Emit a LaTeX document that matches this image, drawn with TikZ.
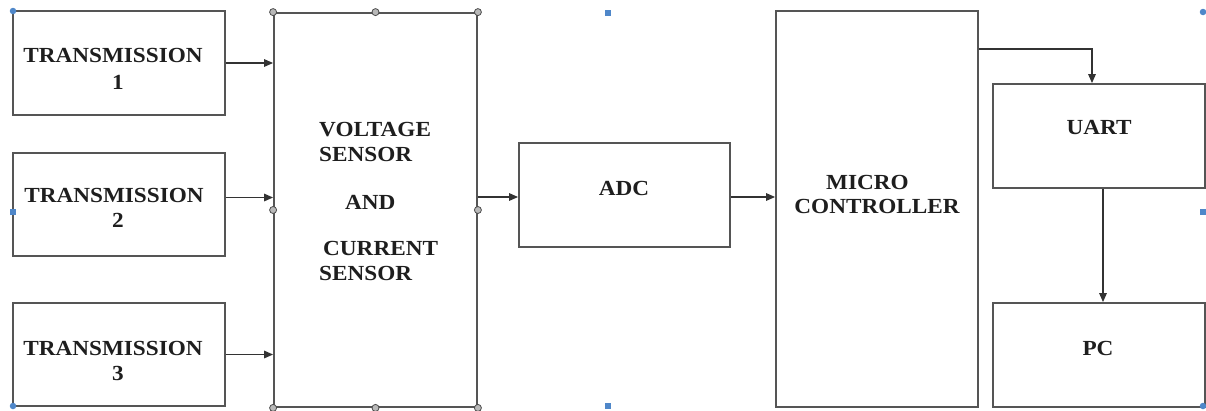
\documentclass[tikz,border=0pt]{standalone}
\usepackage{fontspec}
\setmainfont{Liberation Serif}[FakeStretch=1.08]
\usetikzlibrary{arrows.meta,calc}
\definecolor{linec}{HTML}{555555}
\definecolor{txtc}{HTML}{1E1E1E}
\definecolor{handleblue}{HTML}{4F87C9}
\begin{document}
\begin{tikzpicture}[x=1pt,y=-1pt,
  blk/.style={draw=linec,line width=1.8pt,fill=white,inner sep=0pt},
  lbl/.style={text=txtc,font=\fontsize{21.5}{24}\selectfont\bfseries,inner sep=0pt},
  arr/.style={draw=black!80,line width=1.4pt,-{Triangle[length=9pt,width=7.5pt]}},
  ghandle/.style={circle,draw=gray!60!black,fill=gray!55,line width=0.8pt,inner sep=0pt,minimum size=7pt},
  bdot/.style={circle,fill=handleblue,inner sep=0pt,minimum size=6.5pt},
  bsq/.style={rectangle,fill=handleblue,inner sep=0pt,minimum size=6pt}]
\useasboundingbox (0,0) rectangle (1206,410);
\fill[white] (0,0) rectangle (1206,410);

% boxes
\node[blk,minimum width=212pt,minimum height=104pt] (t1) at (119,63) {};
\node[blk,minimum width=212pt,minimum height=103pt] (t2) at (119,204.5) {};
\node[blk,minimum width=212pt,minimum height=103pt] (t3) at (119,354.5) {};
\node[blk,minimum width=203pt,minimum height=394pt] (sensor) at (375.5,210) {};
\node[blk,minimum width=211pt,minimum height=104pt] (adc) at (624.5,195) {};
\node[blk,minimum width=202pt,minimum height=396pt] (mc) at (877,209) {};
\node[blk,minimum width=212pt,minimum height=104pt] (uart) at (1099,136) {};
\node[blk,minimum width=212pt,minimum height=104pt] (pc) at (1099,355) {};

% texts
\node[lbl] (t1a) at (113,55) {TRANSMISSION};
\node[lbl] (t1b) at (118,82) {1};
\node[lbl] (t2a) at (114,195) {TRANSMISSION};
\node[lbl] (t2b) at (118,220) {2};
\node[lbl] (t3a) at (113,348) {TRANSMISSION};
\node[lbl] (t3b) at (118,373) {3};
\node[lbl,anchor=west] (s1) at (319,130) {VOLTAGE};
\node[lbl,anchor=west] (s2) at (319,154) {SENSOR};
\node[lbl,anchor=west] (s3) at (345,202) {AND};
\node[lbl,anchor=west] (s4) at (323,248) {CURRENT};
\node[lbl,anchor=west] (s5) at (319,273) {SENSOR};
\node[lbl] (adct) at (624,188) {ADC};
\node[lbl] (mc1) at (867.5,182) {MICRO};
\node[lbl] (mc2) at (877,206) {CONTROLLER};
\node[lbl] (uartt) at (1099,127) {UART};
\node[lbl] (pct) at (1098,348) {PC};

% connectors
\draw[arr] (t1.east) -- (t1.east -| sensor.west);
\path ([yshift=7pt]t2.east) coordinate (a2);
\draw[arr] (a2) -- (a2 -| sensor.west);
\draw[arr] (t3.east) -- (t3.east -| sensor.west);
\path ([yshift=-2pt]adc.west) coordinate (a4);
\draw[arr] (a4 -| sensor.east) -- (a4);
\path ([yshift=-2pt]adc.east) coordinate (a5);
\draw[arr] (a5) -- (a5 -| mc.west);
\path ([yshift=-39pt]mc.north east) coordinate (a6);
\draw[arr] (a6) -| ([xshift=-7pt]uart.north);
\draw[arr] ([xshift=4pt]uart.south) -- ([xshift=4pt]pc.north);

% selection handles on sensor box
\foreach \a in {north west,north,north east,west,east,south west,south,south east}
  \node[ghandle] at (sensor.\a) {};

% blue selection handles
\node[bdot] (h1) at (13,11) {};
\node[bsq] (h2) at (13,212) {};
\node[bdot] (h3) at (13,406) {};
\node[bsq] (h4) at (608,13) {};
\node[bsq] (h5) at (608,406) {};
\node[bdot] (h6) at (1203,12) {};
\node[bsq] (h7) at (1203,212) {};
\node[bdot] (h8) at (1203,406) {};
\end{tikzpicture}
\end{document}
